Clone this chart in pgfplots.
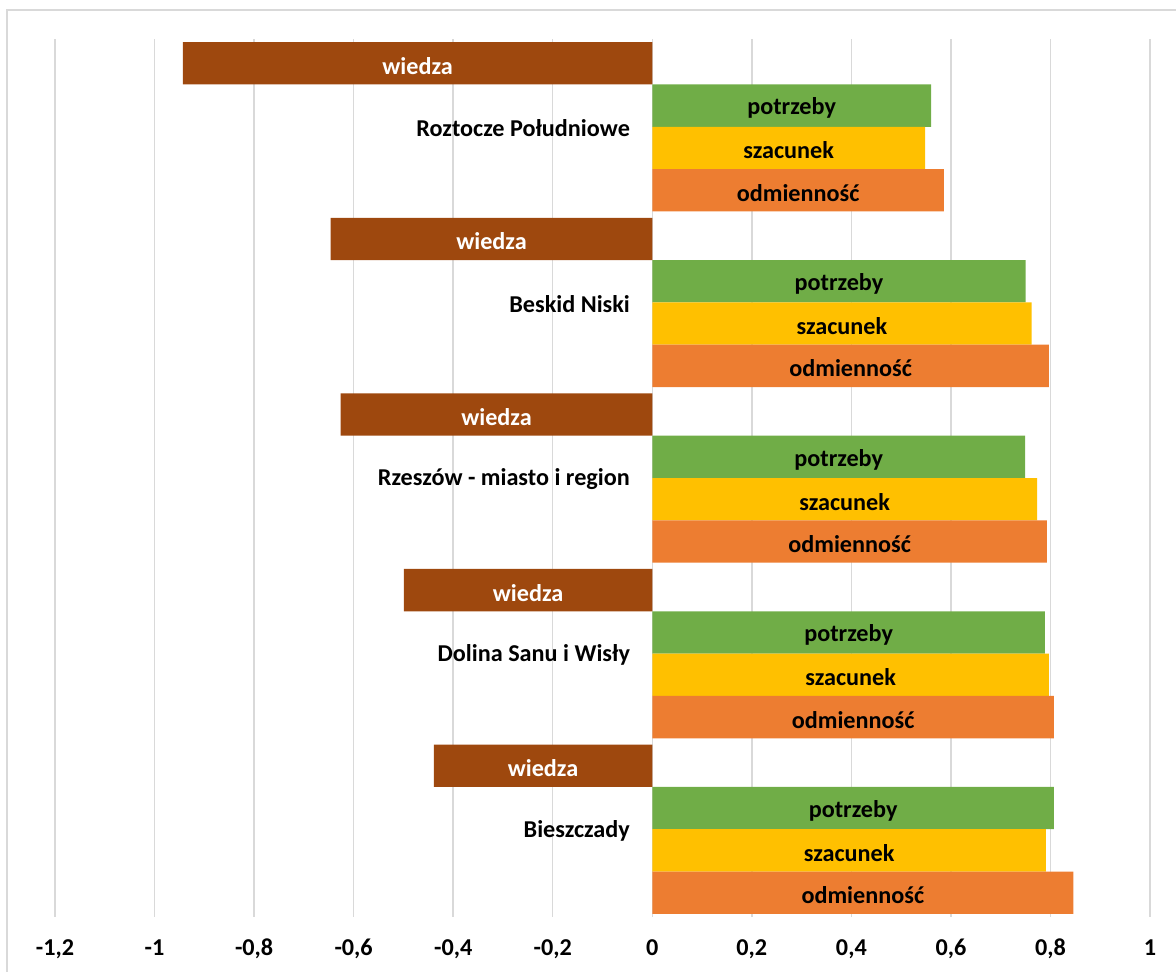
\documentclass[border=0pt]{standalone}
\usepackage{fontspec}
\setmainfont{Carlito}
\usepackage{pgfplots}
\usepackage{pgfplotstable}
\pgfplotsset{compat=1.18}
\definecolor{cWiedza}{HTML}{9E480E}
\definecolor{cPotrzeby}{HTML}{70AD47}
\definecolor{cSzacunek}{HTML}{FFC000}
\definecolor{cOdm}{HTML}{ED7D31}
\definecolor{gridgray}{HTML}{D9D9D9}
\newcommand{\lbl}{\bfseries\fontsize{12.1}{14}\selectfont}

\pgfplotstableread[col sep=comma]{
g,name,wiedza,potrzeby,szacunek,odm
0,Roztocze Południowe,-0.943,0.560,0.548,0.586
1,Beskid Niski,-0.646,0.750,0.762,0.797
2,Rzeszów - miasto i region,-0.626,0.749,0.773,0.793
3,Dolina Sanu i Wisły,-0.499,0.789,0.797,0.807
4,Bieszczady,-0.439,0.807,0.791,0.846
}\data

\pgfplotsset{
  mybar/.style={xbar, bar width=0.241, bar shift=0pt, draw=none, fill=#1},
  mylbl/.style={draw=none, mark=none, nodes near coords={#1},
     every node near coord/.style={anchor=center, yshift=-1.3pt, text=black, font=\lbl}},
}

\begin{document}
\begin{tikzpicture}
\begin{axis}[
  at={(27.5pt,27pt)}, anchor=south west,
  scale only axis, width=547.5pt, height=439pt,
  xmin=-1.2, xmax=1, ymin=-0.5, ymax=4.5, y dir=reverse,
  axis line style={draw=none},
  ytick=\empty,
  xtick={-1.2,-1,-0.8,-0.6,-0.4,-0.2,0,0.2,0.4,0.6,0.8,1},
  xticklabels={{-1,2},{-1},{-0,8},{-0,6},{-0,4},{-0,2},{0},{0,2},{0,4},{0,6},{0,8},{1}},
  xticklabel style={font=\lbl, anchor=base, yshift=-19.3pt},
  major tick length=0pt,
  xmajorgrids, grid style={color=gridgray, line width=0.75pt},
  clip=false,
]
\addplot[mybar=cWiedza] table[x=wiedza, y expr=\thisrow{g}-0.3615]{\data};
\addplot[mybar=cPotrzeby] table[x=potrzeby, y expr=\thisrow{g}-0.1205]{\data};
\addplot[mybar=cSzacunek] table[x=szacunek, y expr=\thisrow{g}+0.1205]{\data};
\addplot[mybar=cOdm] table[x=odm, y expr=\thisrow{g}+0.3615]{\data};

\addplot[mylbl={wiedza}, every node near coord/.append style={text=white}] table[x expr=\thisrow{wiedza}/2, y expr=\thisrow{g}-0.3615]{\data};
\addplot[mylbl={potrzeby}] table[x expr=\thisrow{potrzeby}/2, y expr=\thisrow{g}-0.1205]{\data};
\addplot[mylbl={szacunek}] table[x expr=\thisrow{szacunek}/2, y expr=\thisrow{g}+0.1205]{\data};
\addplot[mylbl={odmienność}] table[x expr=\thisrow{odm}/2, y expr=\thisrow{g}+0.3615]{\data};

\addplot[draw=none, mark=none, point meta=explicit symbolic, nodes near coords,
  every node near coord/.style={anchor=east, inner sep=0pt, xshift=-11pt, yshift=-0.6pt, text=black, font=\lbl}]
  table[x expr=0, y=g, meta=name]{\data};
\end{axis}
\draw[gridgray, line width=0.8pt] (3.4pt,-5pt) -- (3.4pt,480.6pt) -- (600pt,480.6pt);
\pgfresetboundingbox
\useasboundingbox (0,0) rectangle (588pt,485.5pt);
\end{tikzpicture}
\end{document}
